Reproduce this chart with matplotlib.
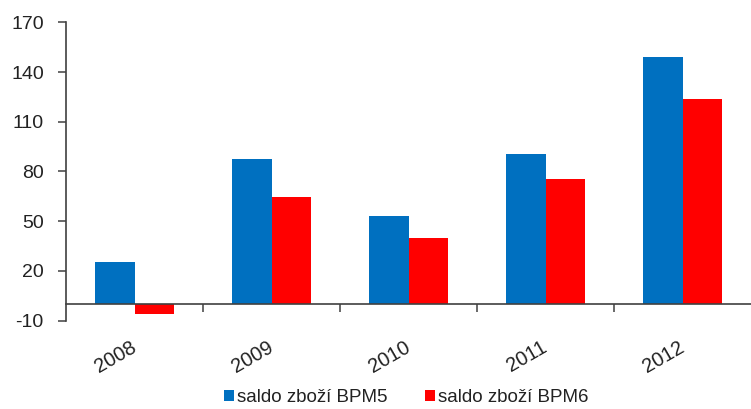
import numpy as np
import matplotlib
matplotlib.use("Agg")
import matplotlib.pyplot as plt

plt.rcParams['font.family'] = ['Liberation Sans', 'DejaVu Sans']

# data
years = ['2008', '2009', '2010', '2011', '2012']
bpm5 = [25.6, 87.5, 53.3, 90.5, 148.8]
bpm6 = [-6.0, 64.8, 39.9, 75.5, 123.9]
series_labels = ['saldo zboží BPM5', 'saldo zboží BPM6']
yticks = [-10, 20, 50, 80, 110, 140, 170]

BLUE = '#0070C0'
RED = '#FF0000'
TXT = '#222222'
AX = '#404040'

fig = plt.figure(figsize=(7.51, 4.09), dpi=100)
ax = fig.add_axes([0.0879, 0.2159, 0.9121, 0.7296])

x = np.arange(len(years))
w = 0.29
b1 = ax.bar(x - w / 2, bpm5, w, color=BLUE, label=series_labels[0], zorder=2)
b2 = ax.bar(x + w / 2, bpm6, w, color=RED, label=series_labels[1], zorder=2)

ax.set_xlim(-0.5, len(years) - 0.5)
ax.set_ylim(-10, 170)
ax.set_yticks(yticks)
ax.set_yticklabels([str(v) for v in yticks], fontsize=14, color=TXT)
ax.tick_params(axis='y', direction='out', length=6, width=1.1, color=AX, pad=10)

# category axis crosses at zero
for s in ['top', 'right']:
    ax.spines[s].set_visible(False)
ax.spines['bottom'].set_position(('data', 0))
ax.spines['bottom'].set_zorder(3)
for s in ['bottom', 'left']:
    ax.spines[s].set_color(AX)
    ax.spines[s].set_linewidth(1.2)

ax.set_xticks(x)
ax.set_xticklabels(years, fontsize=14.5, color=TXT, rotation=30,
                   ha='right', va='center', rotation_mode='anchor')
ax.tick_params(axis='x', which='major', length=0, pad=30)
ax.set_xticks(x[:-1] + 0.5, minor=True)
ax.tick_params(axis='x', which='minor', direction='out', length=6, width=1.1, color=AX)

fig.legend(handles=[b1, b2], labels=series_labels, loc='center',
           bbox_to_anchor=(0.541, 0.027), ncol=2, frameon=False,
           fontsize=13.5, handlelength=0.55, handleheight=0.55,
           handletextpad=0.15, columnspacing=2.0, labelcolor=TXT)

fig.savefig('out.png', dpi=100)
